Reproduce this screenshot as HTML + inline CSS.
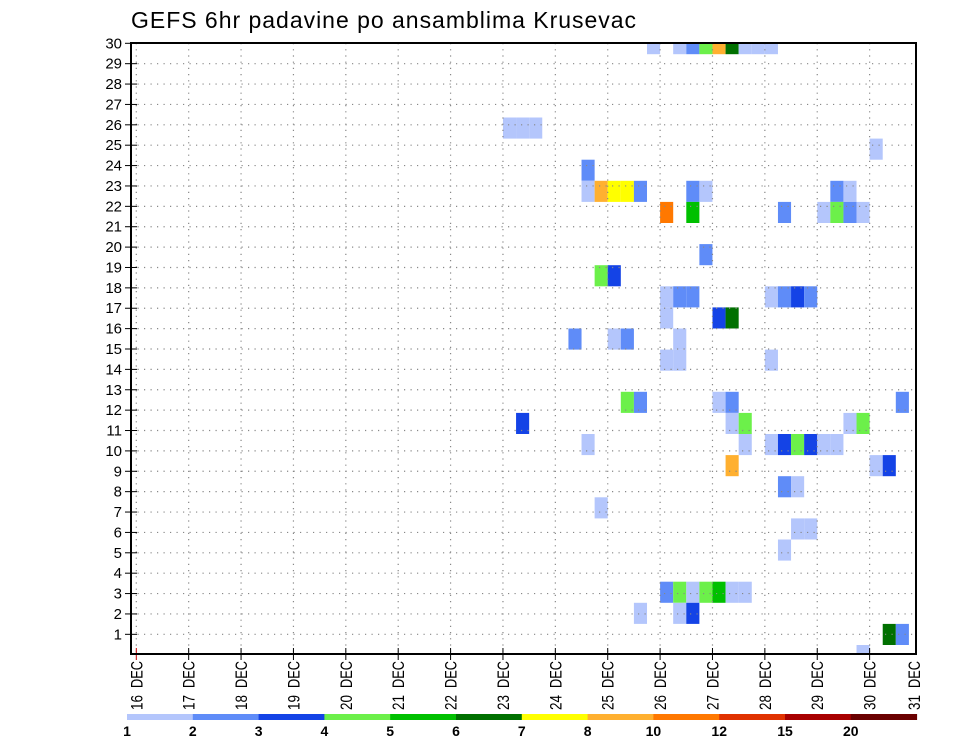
<!DOCTYPE html>
<html><head><meta charset="utf-8"><style>
html,body{margin:0;padding:0;background:#fff;}
svg{display:block;font-family:"Liberation Sans",sans-serif;}
</style></head><body>
<svg id="chart" width="960" height="742" viewBox="0 0 960 742" xmlns="http://www.w3.org/2000/svg">
<text x="131" y="28" font-size="23" fill="#000" textLength="505" lengthAdjust="spacing">GEFS 6hr padavine po ansamblima Krusevac</text>
<defs><clipPath id="plotclip"><rect x="131" y="43" width="785" height="611"/></clipPath></defs>
<g id="cells" clip-path="url(#plotclip)"></g>
<g id="grid"></g>
<g id="axes"></g>
<rect x="131" y="43" width="785" height="611" fill="none" stroke="#000" stroke-width="2"/>
<g id="colorbar"></g>
</svg>
<script>
// data: 6-hour step index from 16 DEC 00Z, ensemble member, precip value (mm)
const cellStep   = [39,41,42,43,44,45,46,47,48, 28,29,30, 56, 34, 34,35,36,37,38,42,43,53,54, 40,42,49,52,53,54,55, 43, 35,36, 40,41,42,48,49,50,51, 40,44,45, 33,36,37,41, 40,41,48, 37,38,44,45,58, 29,45,46,54,55, 34,46,48,49,50,51,52,53, 45,56,57, 49,50, 35, 50,51, 49, 40,41,42,43,44,45,46, 38,41,42, 57,58, 55];
const cellMember = [29,29,29,29,29,29,29,29,29, 25,25,25, 24, 23, 22,22,22,22,22,22,22,22,22, 21,21,21,21,21,21,21, 19, 18,18, 17,17,17,17,17,17,17, 16,16,16, 15,15,15,15, 14,14,14, 12,12,12,12,12, 11,11,11,11,11, 10,10,10,10,10,10,10,10, 9,9,9, 8,8, 7, 6,6, 5, 3,3,3,3,3,3,3, 2,2,2, 1,1, 0];
const cellValue  = [1.5,1.5,2.5,4.5,9,6.5,1.5,1.5,1.5, 1.5,1.5,1.5, 1.5, 2.5, 1.5,9,7.5,7.5,2.5,2.5,1.5,2.5,1.5, 11,5.5,2.5,1.5,4.5,2.5,1.5, 2.5, 4.5,3.5, 1.5,2.5,2.5,1.5,2.5,3.5,2.5, 1.5,3.5,6.5, 2.5,1.5,2.5,1.5, 1.5,1.5,1.5, 4.5,2.5,1.5,2.5,2.5, 3.5,1.5,4.5,1.5,4.5, 1.5,1.5,1.5,3.5,4.5,3.5,1.5,1.5, 9,1.5,3.5, 2.5,1.5, 1.5, 1.5,1.5, 1.5, 2.5,4.5,1.5,4.5,5.5,1.5,1.5, 1.5,1.5,3.5, 6.5,2.5, 1.5];
const levels = [1,2,3,4,5,6,7,8,10,12,15,20];
const levelColors = ["#b4c6fc","#5f8cf8","#1443e6","#6cf04a","#00c000","#007000","#ffff00","#ffb030","#ff7800","#e03200","#a80000","#6a0000"];
const dayLabels = ["16","17","18","19","20","21","22","23","24","25","26","27","28","29","30"];
const memberTicks = [1,2,3,4,5,6,7,8,9,10,11,12,13,14,15,16,17,18,19,20,21,22,23,24,25,26,27,28,29,30];

const NS="http://www.w3.org/2000/svg";
const X0=136.3, DAY=52.38, STEP=DAY/4;
function xStep(s){return X0+s*STEP;}
function xDay(d){return X0+d*DAY;}
function yMember(m){return 654.7-m*20.38;}
function yCellTop(m){return 645-m*21.1;}
const CELLH=21.1;
function colorFor(v){let i=0;for(let k=0;k<levels.length;k++){if(v>=levels[k])i=k;}return levelColors[i];}
function mk(tag,attrs,parent){const e=document.createElementNS(NS,tag);for(const k in attrs)e.setAttribute(k,attrs[k]);parent.appendChild(e);return e;}

const gCells=document.getElementById('cells');
for(let i=0;i<cellStep.length;i++){
  const r=mk('rect',{x:xStep(cellStep[i]).toFixed(2),y:yCellTop(cellMember[i]).toFixed(2),width:STEP.toFixed(2),height:CELLH,fill:colorFor(cellValue[i])},gCells);
  
  
}
const gGrid=document.getElementById('grid');
for(const m of memberTicks){
  if(m>=30)continue;
  const l=mk('line',{x1:131,x2:916,y1:yMember(m),y2:yMember(m),stroke:"#888",'stroke-width':1.2,'stroke-dasharray':"1.2,5.3"},gGrid);
  
  
}
for(let d=0;d<dayLabels.length;d++){
  const x=xDay(d);
  const l=mk('line',{x1:x,x2:x,y1:43,y2:654,stroke:"#888",'stroke-width':1.2,'stroke-dasharray':"1.2,5"},gGrid);
  
  
}
const gAx=document.getElementById('axes');
for(const m of memberTicks){
  const y=yMember(m);
  const t=mk('line',{x1:125,x2:137,y1:y,y2:y,stroke:"#000",'stroke-width':1},gAx);
  
  
  const tx=mk('text',{x:122,y:y+5,'text-anchor':'end','font-size':15,fill:'#000'},gAx);
  tx.textContent=m;
  
  
}
const allDays=dayLabels.concat(["31"]);
for(let d=0;d<allDays.length;d++){
  const x = d<dayLabels.length ? xDay(d) : 914;
  if(d<dayLabels.length){
    const t=mk('line',{x1:x,x2:x,y1:648,y2:660,stroke:d===0?"#c00":"#000",'stroke-width':1},gAx);
    
    
  }
  const g=mk('g',{transform:`translate(${x+6},0) rotate(-90)`},gAx);
  const tn=mk('text',{x:-710,y:0,'font-size':17,fill:'#000',textLength:15,lengthAdjust:'spacingAndGlyphs'},g);
  tn.textContent=allDays[d];
  
  
  const tm=mk('text',{x:-688,y:0,'font-size':17,fill:'#000',textLength:27,lengthAdjust:'spacingAndGlyphs'},g);
  tm.textContent="DEC";
  
  
}
const gCb=document.getElementById('colorbar');
const CBX=127, CBW=65.8;
for(let i=0;i<levels.length;i++){
  const r=mk('rect',{x:CBX+i*CBW,y:714,width:CBW+0.5,height:6,fill:levelColors[i]},gCb);
  
  
  const tx=mk('text',{x:CBX+i*CBW,y:736,'text-anchor':'middle','font-size':14,'font-weight':'bold',fill:'#000'},gCb);
  tx.textContent=levels[i];
  
  
}
</script>
</body></html>
